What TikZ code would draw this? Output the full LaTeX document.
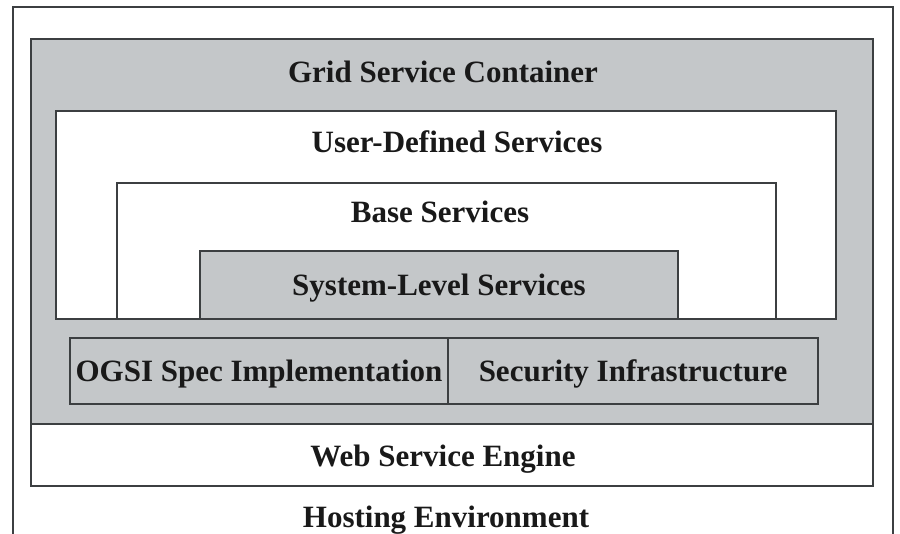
\documentclass[tikz,border=0pt]{standalone}
\usepackage{fontspec}
\setmainfont{Liberation Serif}
\definecolor{panelgray}{HTML}{C4C7C9}
\definecolor{edgegray}{HTML}{3C3F41}
\begin{document}
\begin{tikzpicture}[x=1pt,y=-1pt,
  box/.style={draw=edgegray,line width=1.6pt},
  graybox/.style={box,fill=panelgray},
  whitebox/.style={box,fill=white},
  lbl/.style={anchor=base,inner sep=0pt,font=\bfseries\fontsize{31}{36}\selectfont,text=black!90}]
\useasboundingbox (0,0) rectangle (900,534);
\fill[white] (0,0) rectangle (900,534);
\begin{scope}
\clip (0,0) rectangle (900,534);
% hosting environment frame (open at the bottom)
\draw[box,line width=1.3pt] (13,540) -- (13,7) -- (893,7) -- (893,540);
% grid service container
\draw[graybox] (31,39) rectangle (873,424);
\draw[whitebox] (56,111) rectangle (836,319);
\draw[whitebox] (117,183) rectangle (776,319);
\draw[graybox] (200,251) rectangle (678,319);
\draw[graybox] (70,338) rectangle (818,404);
\draw[box] (448,338) -- (448,404);
% web service engine
\draw[whitebox] (31,424) rectangle (873,486);
% labels
\node[lbl] (gsc) at (443,83) {Grid Service Container};
\node[lbl] (uds) at (457,153) {User-Defined Services};
\node[lbl] (bs) at (440,223) {Base Services};
\node[lbl] (sls) at (439,296) {System-Level Services};
\node[lbl] (ogsi) at (259,382) {OGSI Spec Implementation};
\node[lbl] (sec) at (633,382) {Security Infrastructure};
\node[lbl] (wse) at (443,467) {Web Service Engine};
\node[lbl] (he) at (446,527) {Hosting Environment};
\end{scope}
\end{tikzpicture}
\end{document}
